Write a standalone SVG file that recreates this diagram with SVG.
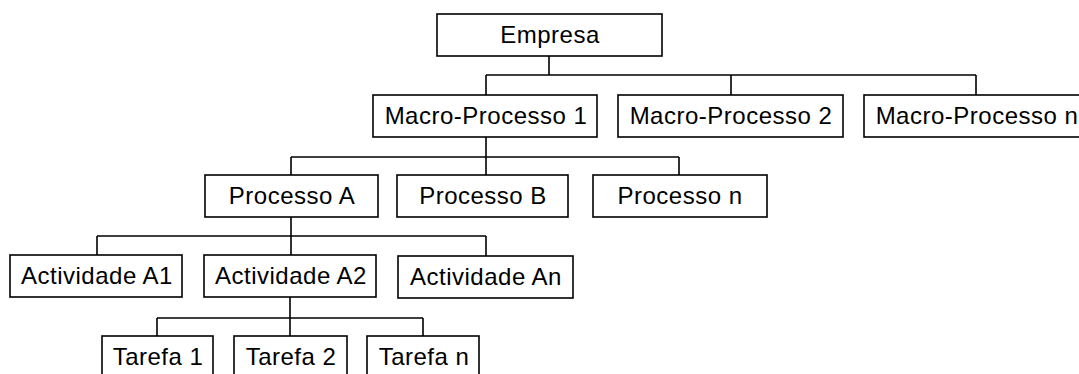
<svg xmlns="http://www.w3.org/2000/svg" width="1079" height="374" viewBox="0 0 1079 374">
<style>
.box{fill:#fff;stroke:#000;stroke-width:1.6}
.lbl{font-family:"Liberation Sans",Arial,sans-serif;font-size:24px;letter-spacing:0.5px;fill:#000;text-anchor:middle}
.con{fill:none;stroke:#000;stroke-width:1.6}
</style>
<rect width="1079" height="374" fill="#fff"/>
<g id="connectors" class="con">
<path d="M549,56V75M486,75H976M486,75V95M731,75V95M976,75V95"/>
<path d="M486,137V175M291,157H679M291,157V175M679,157V175"/>
<path d="M291,217V255M97,236H486M97,236V255M486,236V256"/>
<path d="M290,297V336M157,318H423M157,318V336M423,318V336"/>
</g>
<g id="empresa"><rect class="box" x="437" y="14" width="225" height="42"/><text class="lbl" x="550" y="43">Empresa</text></g>
<g id="macro1"><rect class="box" x="373" y="95" width="224" height="42"/><text class="lbl" x="486" y="124">Macro-Processo 1</text></g>
<g id="macro2"><rect class="box" x="618" y="95" width="225" height="42"/><text class="lbl" x="731" y="124">Macro-Processo 2</text></g>
<g id="macron"><rect class="box" x="864" y="95" width="225" height="42"/><text class="lbl" x="977" y="124">Macro-Processo n</text></g>
<g id="procA"><rect class="box" x="205" y="175" width="173" height="42"/><text class="lbl" x="292" y="204">Processo A</text></g>
<g id="procB"><rect class="box" x="397" y="175" width="171" height="42"/><text class="lbl" x="483" y="204">Processo B</text></g>
<g id="procN"><rect class="box" x="593" y="175" width="174" height="42"/><text class="lbl" x="680" y="204">Processo n</text></g>
<g id="actA1"><rect class="box" x="10" y="255" width="172" height="42"/><text class="lbl" x="97" y="284">Actividade A1</text></g>
<g id="actA2"><rect class="box" x="204" y="255" width="172" height="42"/><text class="lbl" x="291" y="284">Actividade A2</text></g>
<g id="actAn"><rect class="box" x="398" y="256" width="175" height="42"/><text class="lbl" x="486" y="285">Actividade An</text></g>
<g id="tarefa1"><rect class="box" x="102" y="336" width="111" height="45"/><text class="lbl" x="158" y="365">Tarefa 1</text></g>
<g id="tarefa2"><rect class="box" x="234" y="336" width="113" height="45"/><text class="lbl" x="291" y="365">Tarefa 2</text></g>
<g id="tarefan"><rect class="box" x="367" y="336" width="112" height="45"/><text class="lbl" x="424" y="365">Tarefa n</text></g>
</svg>
